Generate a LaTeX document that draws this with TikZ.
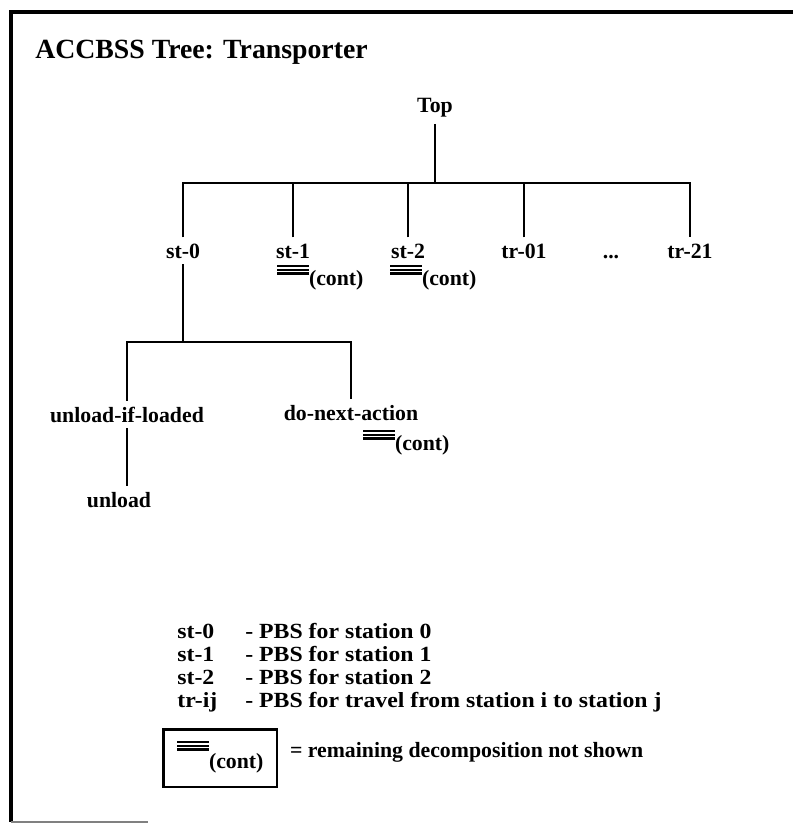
\documentclass[tikz,border=0pt]{standalone}
\usepackage{fontspec}
\setmainfont{Liberation Serif}
\newfontfamily\legendfont[FakeStretch=1.1]{Liberation Serif}
\usetikzlibrary{calc}

\tikzset{
  lbl/.style={font=\fontsize{12.4}{14}\selectfont\bfseries, inner sep=1.5pt, outer sep=2pt},
  leg/.style={font=\fontsize{12.3}{14}\legendfont\bfseries, anchor=base west, inner sep=0pt},
  branch/.style={line width=1.4pt},
  keybox/.style={draw, line width=1.7pt, minimum width=2.28cm, minimum height=1.16cm}
}

\begin{document}
\begin{tikzpicture}[x=0.02cm, y=-0.02cm]
\useasboundingbox (0,0) rectangle (793,824);
% three bars and the (cont) tag, hung from a coordinate; #3 = drop of the tag
\def\cont#1#2#3{
  \coordinate (#1) at #2;
  \foreach \dy in {0,3.7,7.4}
    \draw[line width=1.3pt] ($(#1)+(0,\dy)$) -- ++(32,0);
  \node[lbl, anchor=base west, inner sep=0pt, outer sep=0pt] (#1-txt) at ($(#1)+(32,#3)$) {(cont)};
}

% frame, open on the right
\draw[line width=2.3pt] (793,12) -- (11,12) -- (11,822);
\draw[line width=0.8pt, gray] (11,822) -- (148,822);

\node[anchor=base west, inner sep=0pt, font=\fontsize{15.8}{18}\selectfont\bfseries] (title) at (35,59) {ACCBSS Tree: Transporter};

% first level
\node[lbl, anchor=base] (top) at (435,113) {Top};
\node[lbl, anchor=base] (st0) at (183,258) {st-0};
\node[lbl, anchor=base] (st1) at (293,258) {st-1};
\node[lbl, anchor=base] (st2) at (408,258) {st-2};
\node[lbl, anchor=base] (tr01) at (524,258) {tr-01};
\node[lbl, anchor=base] (dots) at (611,258) {...};
\node[lbl, anchor=base] (tr21) at (690,258) {tr-21};
\coordinate (bar) at (0,183);

\draw[branch] (top.south) -- (top.south |- bar);
\draw[branch] (st0.north) -- (st0.north |- bar) -- (tr21.north |- bar) -- (tr21.north);
\foreach \n in {st1,st2,tr01}
  \draw[branch] (\n.north) -- (\n.north |- bar);

\cont{c1}{(277,266)}{19}
\cont{c2}{(390,266)}{19}

% below st-0
\node[lbl, anchor=base] (uil) at (127,422) {unload-if-loaded};
\node[lbl, anchor=base] (dna) at (351,420) {do-next-action};
\node[lbl, anchor=base] (unload) at (119,507) {unload};
\coordinate (sub) at (0,342);

\draw[branch] (st0.south) -- (st0.south |- sub);
\draw[branch] (uil.north) -- (uil.north |- sub) -- (dna.north |- sub) -- (dna.north);
\draw[branch] (uil.south) -- (uil.south |- unload.north);

\cont{c3}{(363,431)}{19}

% legend
\node[leg] (k0) at (177,638) {st-0};
\node[leg] (k1) at (177,661) {st-1};
\node[leg] (k2) at (177,684) {st-2};
\node[leg] (k3) at (177,707) {tr-ij};
\node[leg] (d0) at (245,638) {- PBS for station 0};
\node[leg] (d1) at (245,661) {- PBS for station 1};
\node[leg] (d2) at (245,684) {- PBS for station 2};
\node[leg] (d3) at (245,707) {- PBS for travel from station i to station j};

\node[keybox] (key) at (220,758) {};
\cont{c4}{(177,742)}{26}
\node[lbl, anchor=base west, inner sep=0pt, outer sep=0pt] (keytxt) at (290,757) {= remaining decomposition not shown};
\end{tikzpicture}
\end{document}
